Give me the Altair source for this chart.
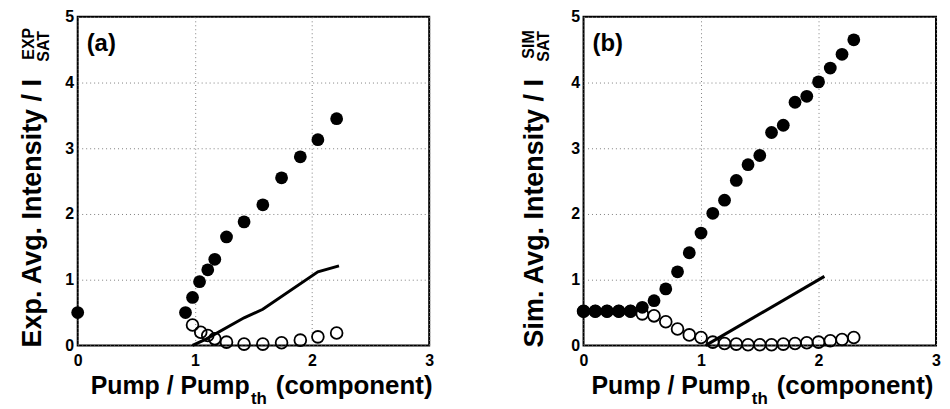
import altair as alt
import pandas as pd

FONT = "Liberation Sans"

# ---------------- data ----------------
# panel (a): experiment
a_filled_x = [0.0, 0.92, 0.98, 1.04, 1.11, 1.17, 1.27, 1.42, 1.58, 1.74, 1.90, 2.05, 2.21]
a_filled_y = [0.50, 0.50, 0.73, 0.97, 1.15, 1.31, 1.65, 1.88, 2.14, 2.55, 2.87, 3.13, 3.45]
a_open_x = [0.98, 1.05, 1.11, 1.17, 1.27, 1.42, 1.58, 1.74, 1.90, 2.05, 2.21]
a_open_y = [0.31, 0.20, 0.15, 0.10, 0.05, 0.02, 0.02, 0.04, 0.08, 0.13, 0.19]
a_line_x = [0.98, 1.10, 1.42, 1.58, 2.05, 2.23]
a_line_y = [0.00, 0.10, 0.42, 0.55, 1.12, 1.21]

# panel (b): simulation
b_x = [0.0, 0.1, 0.2, 0.3, 0.4, 0.5, 0.6, 0.7, 0.8, 0.9, 1.0, 1.1,
       1.2, 1.3, 1.4, 1.5, 1.6, 1.7, 1.8, 1.9, 2.0, 2.1, 2.2, 2.3]
b_filled_y = [0.52, 0.52, 0.52, 0.52, 0.52, 0.58, 0.68, 0.86, 1.12, 1.41, 1.71, 2.01,
              2.21, 2.51, 2.75, 2.89, 3.24, 3.35, 3.70, 3.79, 4.01, 4.22, 4.43, 4.65]
b_open_y = [0.52, 0.52, 0.52, 0.52, 0.52, 0.48, 0.45, 0.36, 0.25, 0.16, 0.12, 0.05,
            0.03, 0.02, 0.01, 0.01, 0.01, 0.02, 0.03, 0.04, 0.05, 0.07, 0.09, 0.12]
b_line_x = [1.04, 2.05]
b_line_y = [0.00, 1.05]

x_ticks = [0, 1, 2, 3]
y_ticks = [0, 1, 2, 3, 4, 5]

W_A, W_B, H = 353, 354, 330


def xy(xs, ys):
    return pd.DataFrame({"x": xs, "y": ys})


def panel(filled, opened, line, label, ylab, sup, offs, width):
    xs = alt.Scale(domain=[0, 3], nice=False, zero=False)
    ys = alt.Scale(domain=[0, 5], nice=False, zero=False)
    xax = alt.Axis(values=x_ticks, format="d", title=None, grid=True, domain=False,
                   ticks=False, labelPadding=7, labelFlush=False)
    yax = alt.Axis(values=y_ticks, format="d", title=None, grid=True, domain=False,
                   ticks=False, labelPadding=4, labelFlush=False)

    base_line = alt.Chart(line).mark_line(color="black", strokeWidth=3).encode(
        x=alt.X("x:Q", scale=xs, axis=xax),
        y=alt.Y("y:Q", scale=ys, axis=yax),
    )
    opens = alt.Chart(opened).mark_point(shape="circle", filled=False, color="black",
                                         strokeWidth=1.8, size=140, opacity=1).encode(
        x=alt.X("x:Q", scale=xs), y=alt.Y("y:Q", scale=ys))
    fills = alt.Chart(filled).mark_circle(color="black", size=165, opacity=1).encode(
        x=alt.X("x:Q", scale=xs), y=alt.Y("y:Q", scale=ys))

    def txt(text, px, py, size, angle=0, align="left"):
        d = pd.DataFrame({"t": [text]})
        return alt.Chart(d).mark_text(font=FONT, fontWeight="bold", fontSize=size,
                                      angle=angle, align=align, baseline="alphabetic",
                                      color="black").encode(
            x=alt.value(px), y=alt.value(py), text="t:N")

    o = offs
    texts = [
        txt(label, 9, 34, 24),
        txt("Pump / Pump", o["xt"], 379, 25),
        txt("th", o["xt"] + 161, 389, 17),
        txt("(component)", o["xc"], 379, 26),
        txt(ylab, o["yb"], 332, 27, angle=270),
        txt(sup, o["yb"] + o["dsup"], o["sup0"], 16, angle=270),
        txt("SAT", o["yb"] + o["dsub"], 45, 16, angle=270),
    ]
    return alt.layer(base_line, opens, fills, *texts).properties(width=width, height=H)


pa = panel(xy(a_filled_x, a_filled_y), xy(a_open_x, a_open_y), xy(a_line_x, a_line_y),
           "(a)", "Exp. Avg. Intensity / I", "EXP",
           {"xt": 13, "xc": 199, "yb": -37, "dsup": -7, "dsub": 8, "sup0": 43}, W_A)
pb = panel(xy(b_x, b_filled_y), xy(b_x, b_open_y), xy(b_line_x, b_line_y),
           "(b)", "Sim. Avg. Intensity / I", "SIM",
           {"xt": 8, "xc": 194, "yb": -41, "dsup": -9, "dsub": 6, "sup0": 42}, W_B)

chart = alt.hconcat(pa, pb, spacing=84).properties(
    padding={"left": 9, "top": -1, "right": 0, "bottom": 0},
    background="white",
).configure_view(
    stroke="black", strokeWidth=2
).configure_axis(
    labelFont=FONT, labelFontWeight="bold", labelFontSize=16, labelColor="black",
    gridColor="#808080", gridDash=[1, 3], gridWidth=1, gridOpacity=1
)

chart.save("out.html", embed_options={"renderer": "svg", "actions": False})
